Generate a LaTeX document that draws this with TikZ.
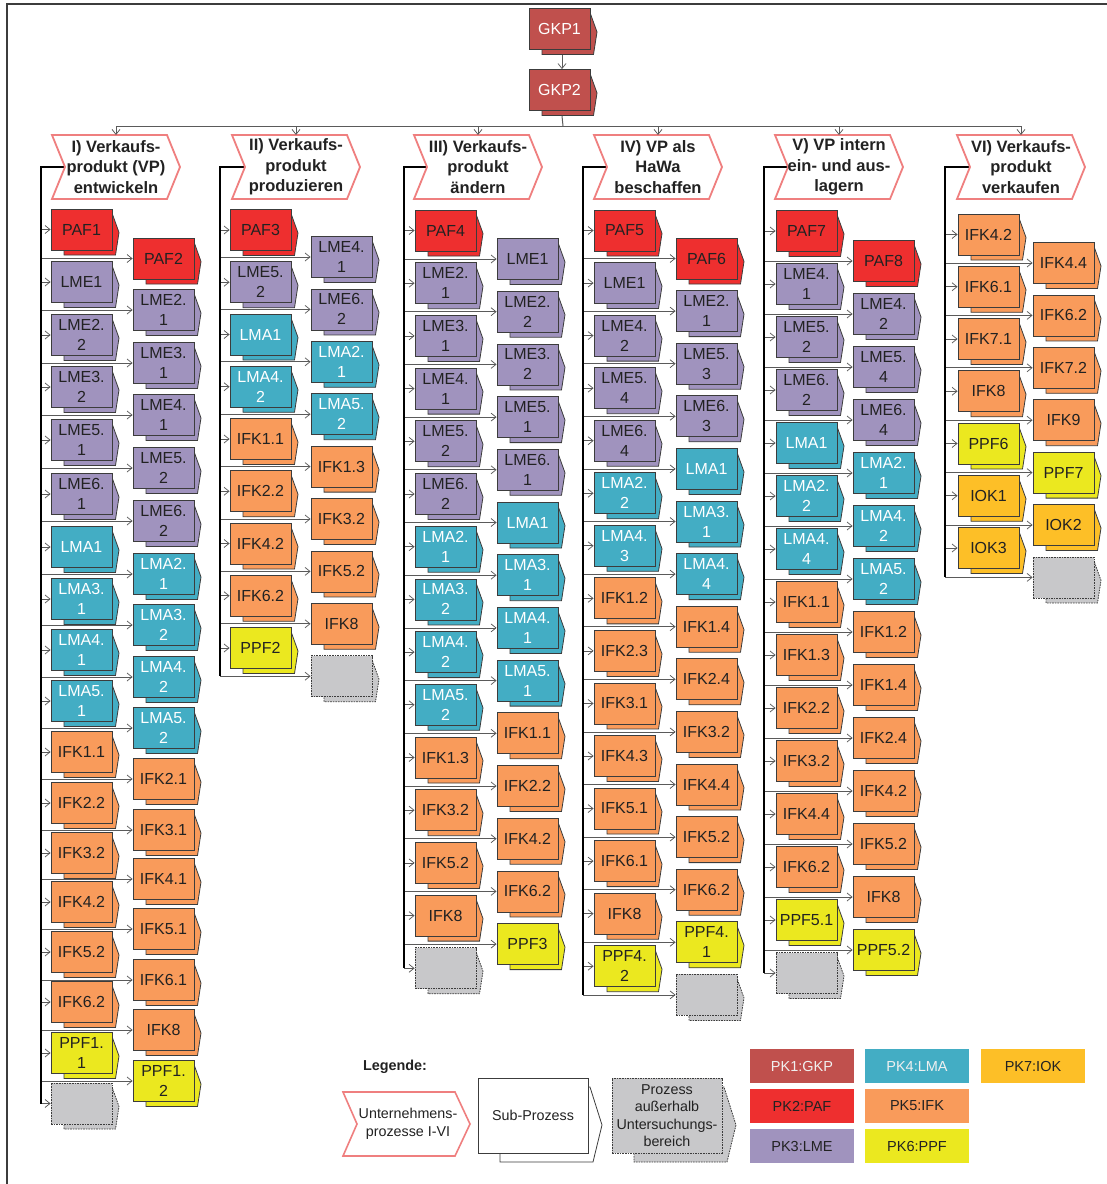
\documentclass[tikz,border=0pt]{standalone}
\usepackage{fontspec}
\setmainfont{Liberation Sans}
\usetikzlibrary{arrows.meta}
\pgfdeclarelayer{background}
\pgfsetlayers{background,main}

\definecolor{cGKP}{HTML}{C0504D}
\definecolor{cPAF}{HTML}{EE2F2F}
\definecolor{cLME}{HTML}{A093BE}
\definecolor{cLMA}{HTML}{43ADC4}
\definecolor{cIFK}{HTML}{F99B5B}
\definecolor{cPPF}{HTML}{EBE81F}
\definecolor{cIOK}{HTML}{FDBF27}
\definecolor{cGray}{HTML}{C8C8CA}
\definecolor{cLine}{HTML}{3C3C3C}
\definecolor{cConn}{HTML}{5A5A5A}
\definecolor{cHead}{HTML}{EF7F7F}
\definecolor{cText}{HTML}{222222}

\newcommand{\boxfont}{\fontsize{16}{20}\selectfont}
\newcommand{\hdrfont}{\fontsize{16.5}{20.5}\selectfont\bfseries}
\newcommand{\legfont}{\fontsize{14.3}{17.5}\selectfont}
\newcommand{\two}[2]{#1\\#2}

% sub-process symbol: shadow shape with arrow point, front rectangle on top
\newcommand{\subproc}[5]{%
  \path[spback,#4] (#2+13,#3-16.5) -- (#2+61,#3-16.5) -- (#2+68,#3+3)
    -- (#2+64.5,#3+25.5) -- (#2+13,#3+25.5) -- cycle;
  \node[spfront,#4] (#1) at (#2+30.5,#3) {#5};
}
% enterprise process header (chevron)
\newcommand{\procheader}[3]{%
  \path[hdr] (#2,135) -- (#2+115,135) -- (#2+128,167) -- (#2+115,199)
    -- (#2,199) -- (#2+13,167) -- cycle;
  \node[hdrtext] (#1) at (#2+64,167) {#3};
  \coordinate (#1n) at (#2+13,167);
  \coordinate (#1t) at (#2+64,135);
}

\tikzset{
  spback/.style={draw=cLine, line width=0.8pt},
  spfront/.style={draw=cLine, line width=0.8pt, minimum width=61pt,
    minimum height=41pt, inner sep=0pt, align=center, font=\boxfont, text=cText},
  gkp/.style={fill=cGKP, text=white},
  paf/.style={fill=cPAF},
  lme/.style={fill=cLME},
  lma/.style={fill=cLMA, text=white},
  ifk/.style={fill=cIFK},
  ppf/.style={fill=cPPF},
  iok/.style={fill=cIOK},
  outside/.style={fill=cGray, dash pattern=on 1.6pt off 1pt},
  hdr/.style={draw=cHead, fill=white, line width=1.8pt, line join=miter},
  hdrtext/.style={font=\hdrfont, align=center, text=cText, inner sep=0pt},
  conn/.style={draw=cConn, line width=0.75pt,
    -{Straight Barb[length=5pt,width=8pt,line width=0.75pt]}},
  busline/.style={draw=cConn, line width=1pt},
  trunk/.style={draw=black, line width=1.8pt},
  frame/.style={draw=cLine, line width=1.2pt},
  pk/.style={minimum width=104pt, minimum height=34pt, inner sep=0pt,
    font=\fontsize{14.5}{17}\selectfont, text=cText},
}

\begin{document}
\begin{tikzpicture}[x=1pt,y=-1pt]
\useasboundingbox (0,0) rectangle (1107,1184);
\draw[frame] (7,1184) -- (7,4) -- (1107,4);

% top level processes
\subproc{g1}{529}{29}{gkp}{GKP1}
\subproc{g2}{529}{90}{gkp}{GKP2}
\draw[conn] ([shift={(2.5,5)}]g1.south) -- ([xshift=2.5pt]g2.north);
\coordinate (bus) at (563,126);

% enterprise process headers
\procheader{h1}{52}{I) Verkaufs-\\produkt (VP)\\entwickeln}
\procheader{h2}{232}{II) Verkaufs-\\produkt\\produzieren}
\procheader{h3}{414}{III) Verkaufs-\\produkt\\ändern}
\procheader{h4}{594}{IV) VP als\\HaWa\\beschaffen}
\procheader{h5}{775}{V) VP intern\\ein- und aus-\\lagern}
\procheader{h6}{957}{VI) Verkaufs-\\produkt\\verkaufen}

\draw[busline] ([shift={(2.5,5)}]g2.south) -- (bus);
\draw[busline] (h1t |- bus) -- (h6t |- bus);
\foreach \h in {h1,h2,h3,h4,h5,h6}
  \draw[conn] (\h t |- bus) -- (\h t);

% trunk anchor points
\coordinate (t1) at (41,167);
\coordinate (t2) at (220,167);
\coordinate (t3) at (404,167);
\coordinate (t4) at (583,167);
\coordinate (t5) at (764,167);
\coordinate (t6) at (945,167);

% ---- column I
\foreach \lab/\kind/\yy [count=\i from 0] in {PAF1/paf/229.5, LME1/lme/282,
  \two{LME2.}{2}/lme/335, \two{LME3.}{2}/lme/387, \two{LME5.}{1}/lme/440,
  \two{LME6.}{1}/lme/494, LMA1/lma/547, \two{LMA3.}{1}/lma/599,
  \two{LMA4.}{1}/lma/650, \two{LMA5.}{1}/lma/701, IFK1.1/ifk/752,
  IFK2.2/ifk/803, IFK3.2/ifk/853, IFK4.2/ifk/902, IFK5.2/ifk/952,
  IFK6.2/ifk/1002, \two{PPF1.}{1}/ppf/1053, {}/outside/1103.5} {
  \subproc{aL\i}{51}{\yy}{\kind}{\lab}
  \begin{pgfonlayer}{background}\draw[conn] (aL\i.west -| t1) -- (aL\i.west);\end{pgfonlayer}
}
\foreach \lab/\kind/\yy [count=\i from 0] in {PAF2/paf/258.5, \two{LME2.}{1}/lme/310,
  \two{LME3.}{1}/lme/363, \two{LME4.}{1}/lme/415, \two{LME5.}{2}/lme/468,
  \two{LME6.}{2}/lme/521, \two{LMA2.}{1}/lma/574, \two{LMA3.}{2}/lma/625,
  \two{LMA4.}{2}/lma/677, \two{LMA5.}{2}/lma/728, IFK2.1/ifk/779,
  IFK3.1/ifk/830, IFK4.1/ifk/879, IFK5.1/ifk/929, IFK6.1/ifk/980,
  IFK8/ifk/1030, \two{PPF1.}{2}/ppf/1081} {
  \subproc{aR\i}{133}{\yy}{\kind}{\lab}
  \begin{pgfonlayer}{background}\draw[conn] (aR\i.west -| t1) -- (aR\i.west);\end{pgfonlayer}
}

% ---- column II
\foreach \lab/\kind [count=\i from 0] in {PAF3/paf, \two{LME5.}{2}/lme, LMA1/lma,
  \two{LMA4.}{2}/lma, IFK1.1/ifk, IFK2.2/ifk, IFK4.2/ifk, IFK6.2/ifk, PPF2/ppf} {
  \pgfmathsetmacro\yy{230+\i*52.25}
  \subproc{bL\i}{230}{\yy}{\kind}{\lab}
  \begin{pgfonlayer}{background}\draw[conn] (bL\i.west -| t2) -- (bL\i.west);\end{pgfonlayer}
}
\foreach \lab/\kind [count=\i from 0] in {\two{LME4.}{1}/lme, \two{LME6.}{2}/lme,
  \two{LMA2.}{1}/lma, \two{LMA5.}{2}/lma, IFK1.3/ifk, IFK3.2/ifk, IFK5.2/ifk,
  IFK8/ifk, {}/outside} {
  \pgfmathsetmacro\yy{257+\i*52.4}
  \subproc{bR\i}{311}{\yy}{\kind}{\lab}
  \begin{pgfonlayer}{background}\draw[conn] (bR\i.west -| t2) -- (bR\i.west);\end{pgfonlayer}
}

% ---- column III
\foreach \lab/\kind [count=\i from 0] in {PAF4/paf, \two{LME2.}{1}/lme,
  \two{LME3.}{1}/lme, \two{LME4.}{1}/lme, \two{LME5.}{2}/lme, \two{LME6.}{2}/lme,
  \two{LMA2.}{1}/lma, \two{LMA3.}{2}/lma, \two{LMA4.}{2}/lma, \two{LMA5.}{2}/lma,
  IFK1.3/ifk, IFK3.2/ifk, IFK5.2/ifk, IFK8/ifk, {}/outside} {
  \pgfmathsetmacro\yy{230.5+\i*52.7}
  \subproc{cL\i}{415}{\yy}{\kind}{\lab}
  \begin{pgfonlayer}{background}\draw[conn] (cL\i.west -| t3) -- (cL\i.west);\end{pgfonlayer}
}
\foreach \lab/\kind [count=\i from 0] in {LME1/lme, \two{LME2.}{2}/lme,
  \two{LME3.}{2}/lme, \two{LME5.}{1}/lme, \two{LME6.}{1}/lme, LMA1/lma,
  \two{LMA3.}{1}/lma, \two{LMA4.}{1}/lma, \two{LMA5.}{1}/lma, IFK1.1/ifk,
  IFK2.2/ifk, IFK4.2/ifk, IFK6.2/ifk, PPF3/ppf} {
  \pgfmathsetmacro\yy{259+\i*52.7}
  \subproc{cR\i}{497}{\yy}{\kind}{\lab}
  \begin{pgfonlayer}{background}\draw[conn] (cR\i.west -| t3) -- (cR\i.west);\end{pgfonlayer}
}

% ---- column IV
\foreach \lab/\kind [count=\i from 0] in {PAF5/paf, LME1/lme, \two{LME4.}{2}/lme,
  \two{LME5.}{4}/lme, \two{LME6.}{4}/lme, \two{LMA2.}{2}/lma, \two{LMA4.}{3}/lma,
  IFK1.2/ifk, IFK2.3/ifk, IFK3.1/ifk, IFK4.3/ifk, IFK5.1/ifk, IFK6.1/ifk, IFK8/ifk,
  \two{PPF4.}{2}/ppf} {
  \pgfmathsetmacro\yy{230.5+\i*52.55}
  \subproc{dL\i}{594}{\yy}{\kind}{\lab}
  \begin{pgfonlayer}{background}\draw[conn] (dL\i.west -| t4) -- (dL\i.west);\end{pgfonlayer}
}
\foreach \lab/\kind [count=\i from 0] in {PAF6/paf, \two{LME2.}{1}/lme,
  \two{LME5.}{3}/lme, \two{LME6.}{3}/lme, LMA1/lma, \two{LMA3.}{1}/lma,
  \two{LMA4.}{4}/lma, IFK1.4/ifk, IFK2.4/ifk, IFK3.2/ifk, IFK4.4/ifk, IFK5.2/ifk,
  IFK6.2/ifk, \two{PPF4.}{1}/ppf, {}/outside} {
  \pgfmathsetmacro\yy{258.5+\i*52.6}
  \subproc{dR\i}{676}{\yy}{\kind}{\lab}
  \begin{pgfonlayer}{background}\draw[conn] (dR\i.west -| t4) -- (dR\i.west);\end{pgfonlayer}
}

% ---- column V
\foreach \lab/\kind [count=\i from 0] in {PAF7/paf, \two{LME4.}{1}/lme,
  \two{LME5.}{2}/lme, \two{LME6.}{2}/lme, LMA1/lma, \two{LMA2.}{2}/lma,
  \two{LMA4.}{4}/lma, IFK1.1/ifk, IFK1.3/ifk, IFK2.2/ifk, IFK3.2/ifk, IFK4.4/ifk,
  IFK6.2/ifk, PPF5.1/ppf, {}/outside} {
  \pgfmathsetmacro\yy{231+\i*53}
  \subproc{eL\i}{776}{\yy}{\kind}{\lab}
  \begin{pgfonlayer}{background}\draw[conn] (eL\i.west -| t5) -- (eL\i.west);\end{pgfonlayer}
}
\foreach \lab/\kind [count=\i from 0] in {PAF8/paf, \two{LME4.}{2}/lme,
  \two{LME5.}{4}/lme, \two{LME6.}{4}/lme, \two{LMA2.}{1}/lma, \two{LMA4.}{2}/lma,
  \two{LMA5.}{2}/lma, IFK1.2/ifk, IFK1.4/ifk, IFK2.4/ifk, IFK4.2/ifk, IFK5.2/ifk,
  IFK8/ifk, PPF5.2/ppf} {
  \pgfmathsetmacro\yy{261+\i*53}
  \subproc{eR\i}{853}{\yy}{\kind}{\lab}
  \begin{pgfonlayer}{background}\draw[conn] (eR\i.west -| t5) -- (eR\i.west);\end{pgfonlayer}
}

% ---- column VI
\foreach \lab/\kind [count=\i from 0] in {IFK4.2/ifk, IFK6.1/ifk, IFK7.1/ifk,
  IFK8/ifk, PPF6/ppf, IOK1/iok, IOK3/iok} {
  \pgfmathsetmacro\yy{234.5+\i*52.25}
  \subproc{fL\i}{958}{\yy}{\kind}{\lab}
  \begin{pgfonlayer}{background}\draw[conn] (fL\i.west -| t6) -- (fL\i.west);\end{pgfonlayer}
}
\foreach \lab/\kind [count=\i from 0] in {IFK4.4/ifk, IFK6.2/ifk, IFK7.2/ifk,
  IFK9/ifk, PPF7/ppf, IOK2/iok, {}/outside} {
  \pgfmathsetmacro\yy{263+\i*52.4}
  \subproc{fR\i}{1033}{\yy}{\kind}{\lab}
  \begin{pgfonlayer}{background}\draw[conn] (fR\i.west -| t6) -- (fR\i.west);\end{pgfonlayer}
}

% trunks from each header down to its last sub-process
\begin{pgfonlayer}{background}
\draw[trunk] (h1n) -- (t1) -- (t1 |- aL17.west);
\draw[trunk] (h2n) -- (t2) -- (t2 |- bR8.west);
\draw[trunk] (h3n) -- (t3) -- (t3 |- cL14.west);
\draw[trunk] (h4n) -- (t4) -- (t4 |- dR14.west);
\draw[trunk] (h5n) -- (t5) -- (t5 |- eL14.west);
\draw[trunk] (h6n) -- (t6) -- (t6 |- fR6.west);
\end{pgfonlayer}

% ---- legend
\node[font=\fontsize{14.4}{17}\selectfont\bfseries, text=cText] (legtitle) at (395,1067) {Legende:};
\path[hdr, line width=1.6pt] (343,1092) -- (455,1092) -- (470,1124) -- (455,1156)
  -- (343,1156) -- (357,1124) -- cycle;
\node[font=\legfont, align=center, text=cText, inner sep=0pt] (legup) at (408,1124)
  {Unternehmens-\\prozesse I-VI};

\path[spback, fill=white] (500,1087) -- (590,1087) -- (602,1125) -- (593,1162)
  -- (500,1162) -- cycle;
\node[draw=cLine, line width=0.8pt, fill=white, minimum width=110pt, minimum height=75pt,
  inner sep=0pt, font=\legfont, text=cText] (legsub) at (533,1115.5) {Sub-Prozess};

\path[spback, outside] (634,1087) -- (724,1087) -- (736,1125) -- (727,1162)
  -- (634,1162) -- cycle;
\node[draw=cLine, line width=0.8pt, outside, minimum width=110pt, minimum height=75pt,
  inner sep=0pt, font=\legfont, align=center, text=cText] (legext) at (667,1115.5)
  {Prozess\\außerhalb\\Untersuchungs-\\bereich};

\node[pk, fill=cGKP, text=white!94!black] (pk1) at (802,1066) {PK1:GKP};
\node[pk, fill=cPAF] (pk2) at (802,1106) {PK2:PAF};
\node[pk, fill=cLME] (pk3) at (802,1146) {PK3:LME};
\node[pk, fill=cLMA, text=white!94!black] (pk4) at (917,1066) {PK4:LMA};
\node[pk, fill=cIFK] (pk5) at (917,1106) {PK5:IFK};
\node[pk, fill=cPPF] (pk6) at (917,1146) {PK6:PPF};
\node[pk, fill=cIOK] (pk7) at (1033,1066) {PK7:IOK};
\end{tikzpicture}
\end{document}
